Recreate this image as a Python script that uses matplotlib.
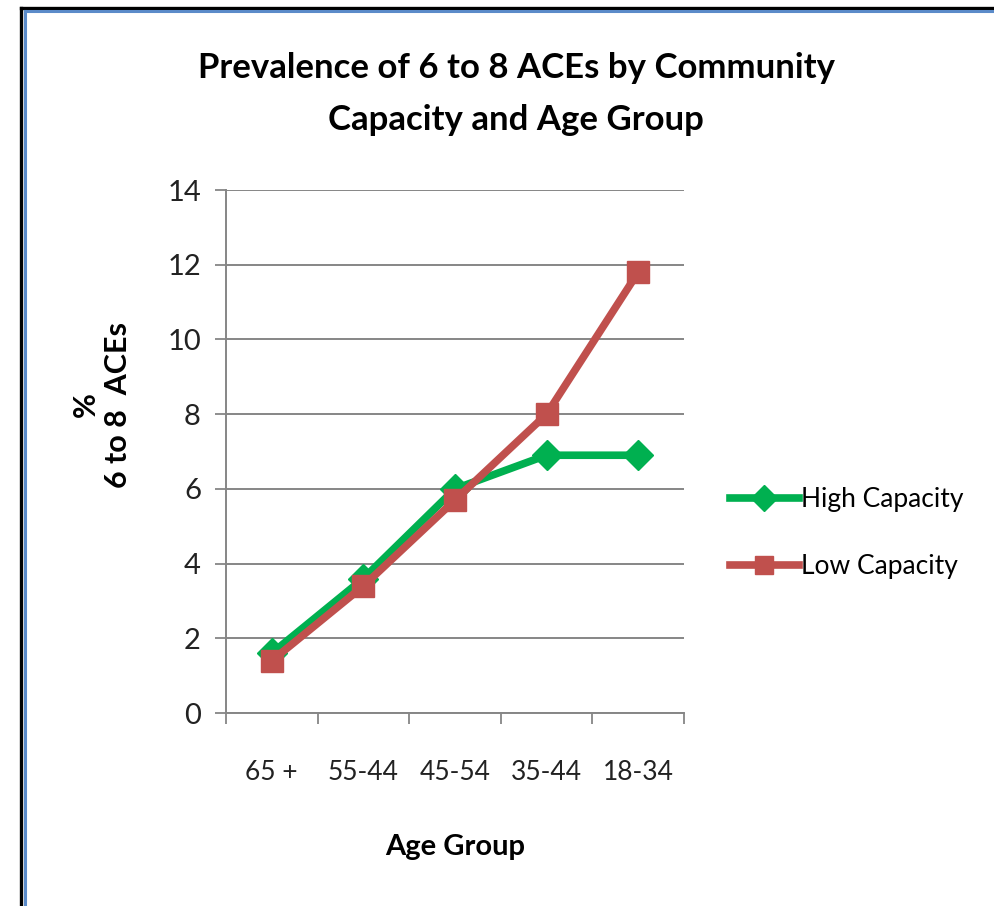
import matplotlib
matplotlib.use('Agg')
import matplotlib.pyplot as plt
from matplotlib.lines import Line2D

age_groups = ['65 +', '55-44', '45-54', '35-44', '18-34']
high_capacity = [1.6, 3.6, 6.0, 6.9, 6.9]
low_capacity = [1.4, 3.4, 5.7, 8.0, 11.8]
y_ticks = [0, 2, 4, 6, 8, 10, 12, 14]

plt.rcParams['font.family'] = ['Lato', 'DejaVu Sans']

W, H = 995, 906
fig = plt.figure(figsize=(W / 100, H / 100), dpi=100)
fig.patch.set_facecolor('white')

# frame round the chart (black outer, blue inner), top and left only
fig.add_artist(Line2D([21.5 / W, 21.5 / W], [0, 1 - 7.5 / H], color='black', lw=2.4))
fig.add_artist(Line2D([21.5 / W, 1], [1 - 7.5 / H, 1 - 7.5 / H], color='black', lw=2.4))
fig.add_artist(Line2D([25 / W, 25 / W], [0, 1 - 10.5 / H], color='#5b8bc9', lw=2.2))
fig.add_artist(Line2D([25 / W, 1], [1 - 10.5 / H, 1 - 10.5 / H], color='#5b8bc9', lw=2.2))

ax = fig.add_axes([226 / W, 1 - 713 / H, 458 / W, 523 / H])
x = list(range(len(age_groups)))

ax.plot(x, high_capacity, color='#00B050', lw=5.5, marker='D', markersize=15,
        label='High Capacity', zorder=3)
ax.plot(x, low_capacity, color='#C0504D', lw=5.5, marker='s', markersize=16,
        label='Low Capacity', zorder=4)

ax.set_xlim(-0.5, len(age_groups) - 0.5)
ax.set_ylim(0, 14)
ax.set_yticks(y_ticks)
ax.set_xticks(x)
ax.set_xticklabels(age_groups, fontsize=19, color='#222222')
ax.set_xticks([i - 0.5 for i in range(len(age_groups) + 1)], minor=True)
ax.tick_params(axis='x', which='major', length=0, pad=34)
ax.tick_params(axis='x', which='minor', length=8, width=1.3, color='#868686', direction='out')
ax.tick_params(axis='y', labelsize=21, length=8, width=1.3, color='#868686', pad=10,
               labelcolor='#222222')
ax.yaxis.grid(True, color='#868686', lw=1.4)
ax.set_axisbelow(True)
for s in ['top', 'right']:
    ax.spines[s].set_visible(False)
for s in ['left', 'bottom']:
    ax.spines[s].set_color('#868686')
    ax.spines[s].set_linewidth(1.4)

ax.set_xlabel('Age Group', fontsize=21, fontweight='bold', labelpad=35)
ax.set_ylabel('%\n6 to 8  ACEs', fontsize=22, fontweight='bold', linespacing=1.15,
              va='center')
ax.yaxis.set_label_coords((102 - 226) / 458, (713 - 405) / 523)

fig.text(516 / W, 1 - 94 / H, 'Prevalence of 6 to 8 ACEs by Community\nCapacity and Age Group',
         ha='center', va='center', fontsize=25, fontweight='bold', linespacing=1.75)

fig.legend(loc='center left', bbox_to_anchor=(730 / W, 1 - 533 / H), frameon=False,
           fontsize=19, handlelength=2.6, handletextpad=0.1, labelspacing=1.6,
           borderaxespad=0, borderpad=0, markerscale=0.85)

fig.savefig('out.png', dpi=100)
